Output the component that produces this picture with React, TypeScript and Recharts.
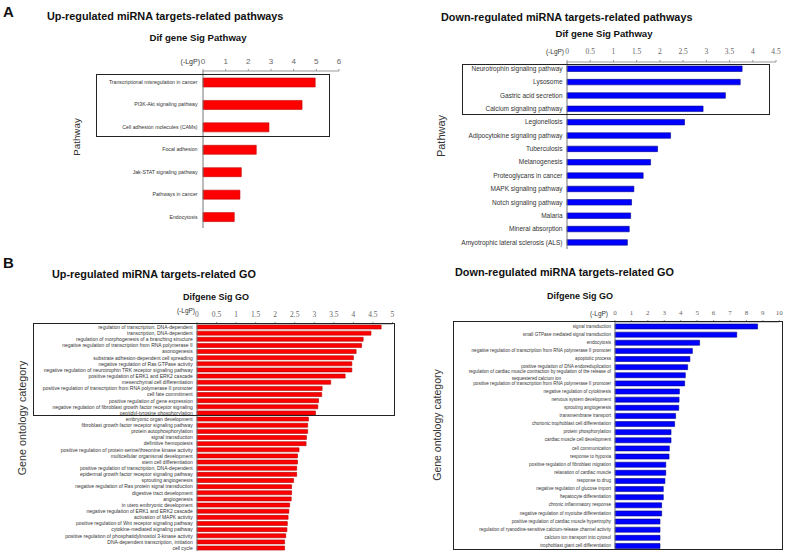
import React from "react";
import { BarChart, Bar, XAxis, YAxis } from "recharts";

// A, left: up-regulated pathways
const upPathways = [
  "Transcriptional misregulation in cancer",
  "PI3K-Akt signaling pathway",
  "Cell adhesion molecules (CAMs)",
  "Focal adhesion",
  "Jak-STAT signaling pathway",
  "Pathways in cancer",
  "Endocytosis",
];
const upPathwayValues = [4.95, 4.37, 2.91, 2.35, 1.69, 1.63, 1.38];
const upPathwayTicks = [0, 1, 2, 3, 4, 5, 6];

// A, right: down-regulated pathways
const downPathways = [
  "Neurotrophin signaling pathway",
  "Lysosome",
  "Gastric acid secretion",
  "Calcium signaling pathway",
  "Legionellosis",
  "Adipocytokine signaling pathway",
  "Tuberculosis",
  "Melanogenesis",
  "Proteoglycans in cancer",
  "MAPK signaling pathway",
  "Notch signaling pathway",
  "Malaria",
  "Mineral absorption",
  "Amyotrophic lateral sclerosis (ALS)",
];
const downPathwayValues = [3.77, 3.73, 3.41, 2.93, 2.53, 2.23, 1.95, 1.8, 1.64, 1.44, 1.39, 1.37, 1.34, 1.3];
const downPathwayTicks = [0, 0.5, 1, 1.5, 2, 2.5, 3, 3.5, 4, 4.5];

// B, left: up-regulated GO
const upGo = [
  "regulation of transcription, DNA-dependent",
  "transcription, DNA-dependent",
  "regulation of morphogenesis of a branching structure",
  "negative regulation of transcription from RNA polymerase II",
  "axonogenesis",
  "substrate adhesion-dependent cell spreading",
  "negative regulation of Ras GTPase activity",
  "negative regulation of neurotrophin TRK receptor signaling pathway",
  "positive regulation of ERK1 and ERK2 cascade",
  "mesenchymal cell differentiation",
  "positive regulation of transcription from RNA polymerase II promoter",
  "cell fate commitment",
  "positive regulation of gene expression",
  "negative regulation of fibroblast growth factor receptor signaling",
  "peptidyl-tyrosine phosphorylation",
  "embryonic organ development",
  "fibroblast growth factor receptor signaling pathway",
  "protein autophosphorylation",
  "signal transduction",
  "definitive hemopoiesis",
  "positive regulation of protein serine/threonine kinase activity",
  "multicellular organismal development",
  "stem cell differentiation",
  "positive regulation of transcription, DNA-dependent",
  "epidermal growth factor receptor signaling pathway",
  "sprouting angiogenesis",
  "negative regulation of Ras protein signal transduction",
  "digestive tract development",
  "angiogenesis",
  "in utero embryonic development",
  "negative regulation of ERK1 and ERK2 cascade",
  "activation of MAPK activity",
  "positive regulation of Wnt receptor signaling pathway",
  "cytokine-mediated signaling pathway",
  "positive regulation of phosphatidylinositol 3-kinase activity",
  "DNA-dependent transcription, initiation",
  "cell cycle",
];
const upGoValues = [
  4.71, 4.45, 4.25, 4.21, 4.07, 4.0, 3.96, 3.96, 3.79, 3.42, 3.2, 3.19, 3.11, 3.09, 3.03,
  2.85, 2.83, 2.83, 2.8, 2.79, 2.61, 2.57, 2.57, 2.55, 2.55, 2.47, 2.42, 2.42, 2.41, 2.37,
  2.35, 2.33, 2.31, 2.3, 2.27, 2.24, 2.24,
];
const upGoTicks = [0, 0.5, 1, 1.5, 2, 2.5, 3, 3.5, 4, 4.5, 5];

// B, right: down-regulated GO
const downGo = [
  "signal transduction",
  "small GTPase mediated signal transduction",
  "endocytosis",
  "negative regulation of transcription from RNA polymerase II promoter",
  "apoptotic process",
  "positive regulation of DNA endoreduplication",
  "regulation of cardiac muscle contraction by regulation of the release of\nsequestered calcium ion",
  "positive regulation of transcription from RNA polymerase II promoter",
  "negative regulation of cytokinesis",
  "nervous system development",
  "sprouting angiogenesis",
  "transmembrane transport",
  "chorionic trophoblast cell differentiation",
  "protein phosphorylation",
  "cardiac muscle cell development",
  "cell communication",
  "response to hypoxia",
  "positive regulation of fibroblast migration",
  "relaxation of cardiac muscle",
  "response to drug",
  "negative regulation of glucose import",
  "hepatocyte differentiation",
  "chronic inflammatory response",
  "negative regulation of myotube differentiation",
  "positive regulation of cardiac muscle hypertrophy",
  "regulation of ryanodine-sensitive calcium-release channel activity",
  "calcium ion transport into cytosol",
  "trophoblast giant cell differentiation",
];
const downGoValues = [
  8.68, 7.41, 5.15, 4.71, 4.56, 4.42, 4.28, 4.24, 3.92, 3.9, 3.88, 3.69, 3.63, 3.41,
  3.41, 3.31, 3.29, 3.09, 3.09, 3.04, 2.94, 2.94, 2.84, 2.84, 2.74, 2.74, 2.74, 2.74,
];
const downGoTicks = [0, 1, 2, 3, 4, 5, 6, 7, 8, 9, 10];

const SANS = "'Liberation Sans', Arial, sans-serif";
const SERIF = "'Liberation Serif', 'Times New Roman', serif";

function CatTick(props: any) {
  const { x, y, payload, size } = props;
  const lines = String(payload.value).split("\n");
  if (lines.length === 1) {
    return (
      <text x={x} y={y} dy={size * 0.35} textAnchor="end" fontSize={size} fill="#333" fontFamily={SANS}>
        {lines[0]}
      </text>
    );
  }
  const half = (lines[0].length * size * 0.45) / 2;
  return (
    <text fontSize={size} fill="#333" fontFamily={SANS}>
      <tspan x={x} y={y - size * 0.45} textAnchor="end">{lines[0]}</tspan>
      <tspan x={x - half} y={y + size * 1.05} textAnchor="middle">{lines[1]}</tspan>
    </text>
  );
}

interface PanelProps {
  names: string[];
  values: number[];
  ticks: number[];
  plotLeft: number;
  plotWidth: number;
  bandTop: number;
  bandBottom: number;
  labelWidth: number;
  labelSize: number;
  labelGap: number;
  barSize: number;
  fill: string;
  stroke: string;
  tickFont: string;
  tickSize: number;
  tickGap: number;
}

function SigPanel(p: PanelProps) {
  const data = p.names.map((name, i) => ({ name, value: p.values[i] }));
  const axisH = 24;
  const width = p.labelWidth + p.plotWidth + 8;
  const height = axisH + (p.bandBottom - p.bandTop);
  return (
    <div style={{ position: "absolute", left: p.plotLeft - p.labelWidth, top: p.bandTop - axisH }}>
      <BarChart
        layout="vertical"
        width={width}
        height={height}
        data={data}
        margin={{ top: 0, right: 8, bottom: 0, left: 0 }}
      >
        <XAxis
          type="number"
          orientation="top"
          domain={[0, p.ticks[p.ticks.length - 1]]}
          ticks={p.ticks}
          height={axisH}
          tickSize={2}
          tickMargin={p.tickGap - 2}
          axisLine={{ stroke: "#999" }}
          tickLine={{ stroke: "#999" }}
          tick={{ fontSize: p.tickSize, fill: "#666", fontFamily: p.tickFont }}
        />
        <YAxis
          type="category"
          dataKey="name"
          width={p.labelWidth}
          interval={0}
          tickSize={0}
          tickMargin={p.labelGap}
          axisLine={{ stroke: "#777" }}
          tickLine={false}
          tick={(t: any) => <CatTick {...t} size={p.labelSize} />}
        />
        <Bar
          dataKey="value"
          fill={p.fill}
          stroke={p.stroke}
          strokeWidth={0.6}
          barSize={p.barSize}
          isAnimationActive={false}
        />
      </BarChart>
    </div>
  );
}

function Txt(props: {
  x: number;
  y: number;
  size: number;
  children: React.ReactNode;
  bold?: boolean;
  anchor?: "start" | "middle" | "end";
  rotate?: boolean;
  color?: string;
}) {
  const tx = props.anchor === "middle" ? "-50%" : props.anchor === "end" ? "-100%" : "0";
  const transform = props.rotate
    ? "translate(-50%, -50%) rotate(-90deg)"
    : `translate(${tx}, -50%)`;
  return (
    <div
      style={{
        position: "absolute",
        left: props.x,
        top: props.y,
        transform,
        fontSize: props.size,
        fontWeight: props.bold ? "bold" : "normal",
        fontFamily: SANS,
        color: props.color || "#111",
        whiteSpace: "nowrap",
        lineHeight: 1,
      }}
    >
      {props.children}
    </div>
  );
}

function Frame(props: { x1: number; y1: number; x2: number; y2: number }) {
  return (
    <div
      style={{
        position: "absolute",
        left: props.x1,
        top: props.y1,
        width: props.x2 - props.x1,
        height: props.y2 - props.y1,
        border: "1.5px solid #222",
        boxSizing: "border-box",
        pointerEvents: "none",
      }}
    />
  );
}

export default function App() {
  return (
    <div style={{ position: "absolute", left: 0, top: 0, width: 787, height: 556, background: "#fff", overflow: "hidden" }}>
      <Txt x={3} y={11} size={15} bold>A</Txt>
      <Txt x={47} y={16} size={10.85} bold>Up-regulated miRNA targets-related pathways</Txt>
      <Txt x={198} y={38} size={9.6} bold anchor="middle">Dif gene Sig Pathway</Txt>
      <Txt x={200} y={61} size={7} anchor="end" color="#333">(-LgP)</Txt>
      <Txt x={77} y={137} size={9.8} rotate color="#333">Pathway</Txt>
      <SigPanel
        names={upPathways}
        values={upPathwayValues}
        ticks={upPathwayTicks}
        plotLeft={203}
        plotWidth={136}
        bandTop={71}
        bandBottom={228}
        labelWidth={120}
        labelSize={5.2}
        labelGap={5.5}
        barSize={9}
        fill="#ff0000"
        stroke="#c00000"
        tickFont={SANS}
        tickSize={8}
        tickGap={7}
      />
      <Frame x1={96} y1={74} x2={330} y2={137} />

      <Txt x={441} y={17} size={10.85} bold>Down-regulated miRNA targets-related pathways</Txt>
      <Txt x={604} y={34} size={9.6} bold anchor="middle">Dif gene Sig Pathway</Txt>
      <Txt x={564} y={52} size={6.5} anchor="end" color="#333">(-LgP)</Txt>
      <Txt x={441} y={136} size={11} rotate color="#333">Pathway</Txt>
      <SigPanel
        names={downPathways}
        values={downPathwayValues}
        ticks={downPathwayTicks}
        plotLeft={567}
        plotWidth={209}
        bandTop={62}
        bandBottom={249}
        labelWidth={125}
        labelSize={6.5}
        labelGap={4.5}
        barSize={5.5}
        fill="#0000ff"
        stroke="#00008b"
        tickFont={SERIF}
        tickSize={7.5}
        tickGap={8}
      />
      <Frame x1={462} y1={64} x2={770} y2={115} />

      <Txt x={3} y={262} size={15} bold>B</Txt>
      <Txt x={52} y={274} size={10.85} bold>Up-regulated miRNA targets-related GO</Txt>
      <Txt x={216} y={297} size={9} bold anchor="middle">Difgene Sig GO</Txt>
      <Txt x={195} y={311} size={6.5} anchor="end" color="#333">(-LgP)</Txt>
      <Txt x={22} y={418} size={10.8} rotate color="#333">Gene ontology category</Txt>
      <SigPanel
        names={upGo}
        values={upGoValues}
        ticks={upGoTicks}
        plotLeft={196.5}
        plotWidth={195.5}
        bandTop={323.6}
        bandBottom={550.8}
        labelWidth={170}
        labelSize={5}
        labelGap={4.3}
        barSize={4}
        fill="#ff0000"
        stroke="#b00000"
        tickFont={SERIF}
        tickSize={7.5}
        tickGap={7}
      />
      <Frame x1={33} y1={323} x2={395} y2={416} />

      <Txt x={455} y={272} size={10.85} bold>Down-regulated miRNA targets-related GO</Txt>
      <Txt x={580} y={296} size={9} bold anchor="middle">Difgene Sig GO</Txt>
      <Txt x={608} y={314} size={6.5} anchor="end" color="#333">(-LgP)</Txt>
      <Txt x={437} y={425} size={10.5} rotate color="#333">Gene ontology category</Txt>
      <SigPanel
        names={downGo}
        values={downGoValues}
        ticks={downGoTicks}
        plotLeft={615}
        plotWidth={164.3}
        bandTop={321.6}
        bandBottom={549.2}
        labelWidth={170}
        labelSize={4.6}
        labelGap={4}
        barSize={5}
        fill="#0000ff"
        stroke="#00008b"
        tickFont={SERIF}
        tickSize={7}
        tickGap={7}
      />
      <Frame x1={453} y1={321} x2={783} y2={550} />
    </div>
  );
}
